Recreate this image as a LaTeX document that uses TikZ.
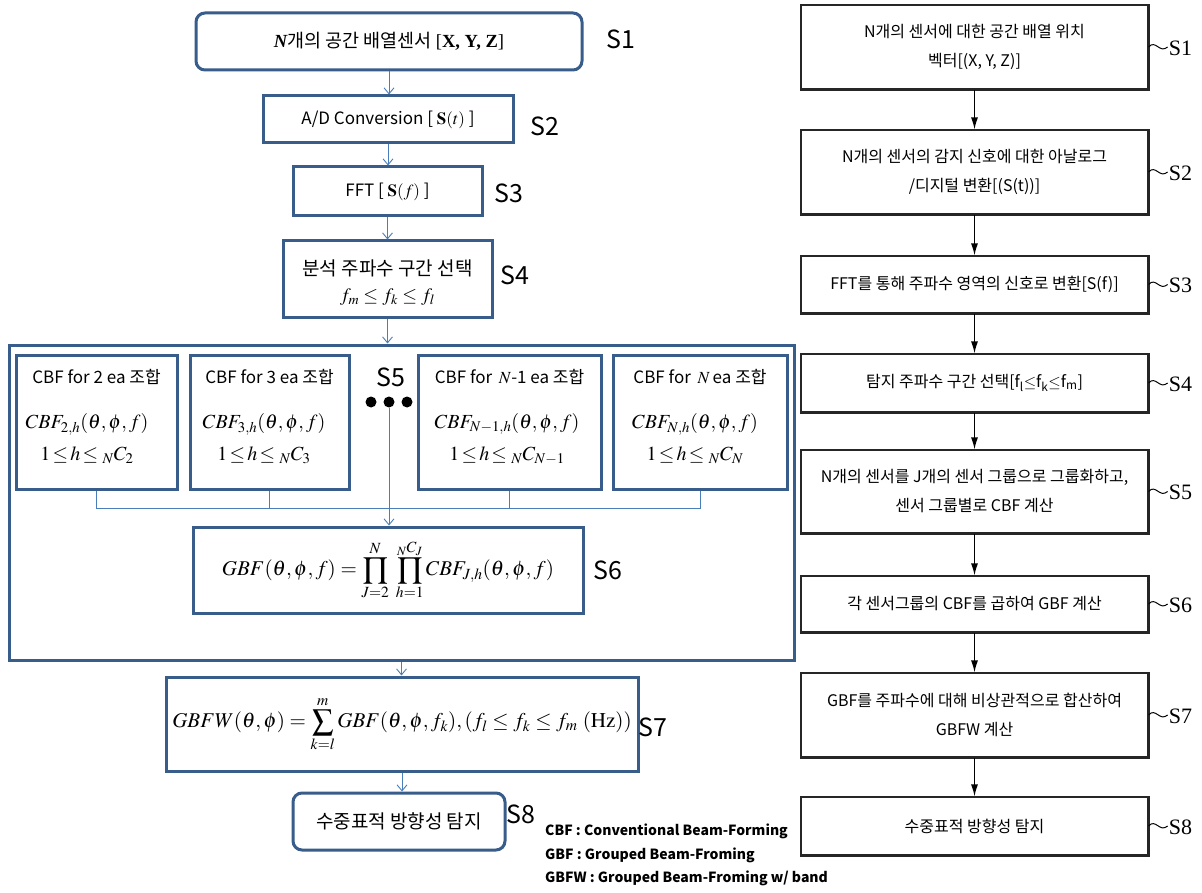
\documentclass[tikz,border=0pt]{standalone}
\usepackage{mathptmx}
\usepackage[no-math]{fontspec}
\setmainfont{Liberation Serif}
\newfontfamily\kr{Noto Sans CJK KR}
\usetikzlibrary{arrows.meta,calc}
\definecolor{bdr}{HTML}{385D8A}
\definecolor{arr}{HTML}{4A7EBB}
\begin{document}
\begin{tikzpicture}[x=1pt,y=-1pt,
  lbox/.style={draw=bdr, line width=3pt, inner sep=0pt, fill=white},
  rbox/.style={draw=black!85, line width=1.2pt, inner sep=0pt, minimum width=347pt, font=\kr\fontsize{16}{29}\selectfont, align=center},
  larrow/.style={draw=arr, line width=0.9pt, -{Straight Barb[length=6pt,width=10pt]}},
  conn/.style={draw=arr, line width=0.9pt},
  rarrow/.style={draw=black, line width=1.3pt, -{Latex[length=12pt,width=7pt]}},
  slab/.style={font=\kr\fontsize{25}{28}\selectfont},
  rlab/.style={font=\rmfamily\fontsize{22}{24}\selectfont, anchor=west, inner sep=0pt},
  ktxt/.style={font=\kr\fontsize{17}{20}\selectfont},
  kbig/.style={font=\kr\fontsize{19}{22}\selectfont},
  ftxt/.style={font=\fontsize{20}{32}\selectfont, align=center},
  dotc/.style={circle, fill=black, inner sep=0pt, minimum size=11pt},
  tl/.style={draw=black, line width=1pt}
]
\useasboundingbox (0,0) rectangle (1202,893);
\fill[white] (0,0) rectangle (1202,893);

% ---------------- left flow ----------------
\node[lbox, rounded corners=9pt, minimum width=386pt, minimum height=57pt, font=\kr\fontsize{18.5}{22}\selectfont] (s1) at (389,41.5)
  {{\rmfamily\bfseries\itshape N}개의 공간 배열센서 {\rmfamily[\textbf{X, Y, Z}]}};
\node[lbox, minimum width=250pt, minimum height=47pt, ktxt] (s2) at (388,119.5)
  {A/D Conversion [ $\mathbf{S}(t)$ ]};
\node[lbox, minimum width=189pt, minimum height=49pt, ktxt] (s3) at (387.5,191.5)
  {FFT [ $\mathbf{S}(f)$ ]};
\node[lbox, minimum width=209pt, minimum height=77pt] (s4) at (387.5,279.5) {};
\node[kbig] (s4a) at (387.5,268) {분석 주파수 구간 선택};
\node[font=\fontsize{19}{22}\selectfont] (s4b) at (387.5,297) {$f_m\le f_k\le f_l$};

\node[lbox, minimum width=785pt, minimum height=315pt] (outer) at (401.5,502.5) {};

\node[lbox, minimum width=161pt, minimum height=134pt] (b1) at (96.5,422) {};
\node[lbox, minimum width=159pt, minimum height=134pt] (b2) at (269.5,422) {};
\node[lbox, minimum width=183pt, minimum height=134pt] (b3) at (509.5,422) {};
\node[lbox, minimum width=174pt, minimum height=134pt] (b4) at (700,422) {};

\node[ktxt] (t1) at (96.5,377) {CBF for 2 ea 조합};
\node[ktxt] (t2) at (269.5,377) {CBF for 3 ea 조합};
\node[ktxt] (t3) at (509.5,377) {CBF for \,$N$-1 ea 조합};
\node[ktxt] (t4) at (700,377) {CBF for \,$N$\,ea 조합};
\node[ftxt] (f1) at (87,439) {$CBF_{2,h}(\theta,\phi,f)$\\$1\!\le\! h\!\le {}_{N}C_{2}$};
\node[ftxt] (f2) at (264,439) {$CBF_{3,h}(\theta,\phi,f)$\\$1\!\le\! h\!\le {}_{N}C_{3}$};
\node[ftxt] (f3) at (507,439) {$CBF_{N-1,h}(\theta,\phi,f)$\\$1\!\le\! h\!\le {}_{N}C_{N-1}$};
\node[ftxt] (f4) at (695,439) {$CBF_{N,h}(\theta,\phi,f)$\\$1\!\le\! h\!\le {}_{N}C_{N}$};

\node[slab] (s5l) at (391,377) {S5};
\node[dotc] (d1) at (371,402) {};
\node[dotc] (d2) at (389,402) {};
\node[dotc] (d3) at (407,402) {};

\node[lbox, minimum width=390pt, minimum height=86pt, font=\fontsize{21}{24}\selectfont] (s6) at (388,570)
  {$\displaystyle GBF(\theta,\phi,f)=\prod_{J=2}^{N}\;\prod_{h=1}^{{}_{N}C_{J}}CBF_{J,h}(\theta,\phi,f)$};
\node[lbox, minimum width=472pt, minimum height=94pt, font=\fontsize{21}{24}\selectfont] (s7) at (402,724)
  {$\displaystyle GBFW(\theta,\phi)=\sum_{k=l}^{m}GBF(\theta,\phi,f_k),(f_l\le f_k\le f_m\ (\mathrm{Hz}))$};
\node[lbox, rounded corners=9pt, minimum width=212pt, minimum height=57pt, kbig] (s8) at (399,821.5)
  {수중표적 방향성 탐지};

\node[slab] (l1) at (621,39) {S1};
\node[slab] (l2) at (545,126) {S2};
\node[slab] (l3) at (509,193) {S3};
\node[slab] (l4) at (515,275) {S4};
\node[slab] (l6) at (608,570) {S6};
\node[slab] (l7) at (653,727) {S7};
\node[slab] (l8) at (521,814) {S8};

\node[anchor=west, align=left, inner sep=0pt, font=\kr\bfseries\fontsize{14}{23.5}\selectfont] (leg) at (545,855)
  {CBF : Conventional Beam-Forming\\GBF : Grouped Beam-Froming\\GBFW : Grouped Beam-Froming w/ band};

% left connectors
\draw[larrow] (s1.south) -- (s1.south |- s2.north);
\draw[larrow] (s2.south) -- (s2.south |- s3.north);
\draw[larrow] (s3.south) -- (s3.south |- s4.north);
\draw[larrow] (s4.south) -- (s4.south |- outer.north);
\coordinate (jy) at (0,508);
\draw[conn] (b1.south) -- (b1.south |- jy) -- (b4.south |- jy) -- (b4.south);
\draw[conn] (b2.south) -- (b2.south |- jy);
\draw[conn] (b3.south) -- (b3.south |- jy);
\draw[larrow] (d2) -- (d2 |- s6.north);
\draw[larrow] (outer.south) -- (outer.south |- s7.north);
\draw[larrow] (s7.south) -- (s7.south |- s8.north);

% ---------------- right flow ----------------
\node[rbox, minimum height=84pt] (r1) at (974.5,47) {N개의 센서에 대한 공간 배열 위치\\벡터[(X, Y, Z)]};
\node[rbox, minimum height=84pt] (r2) at (974.5,172) {N개의 센서의 감지 신호에 대한 아날로그\\/디지털 변환[(S(t))]};
\node[rbox, minimum height=57pt] (r3) at (974.5,284.5) {FFT를 통해 주파수 영역의 신호로 변환[S(f)]};
\node[rbox, minimum height=58pt] (r4) at (974.5,383) {탐지 주파수 구간 선택[f\textsubscript{l}$\le$f\textsubscript{k}$\le$f\textsubscript{m}]};
\node[rbox, minimum height=83pt] (r5) at (974.5,491.5) {N개의 센서를 J개의 센서 그룹으로 그룹화하고,\\센서 그룹별로 CBF 계산};
\node[rbox, minimum height=56pt] (r6) at (974.5,604) {각 센서그룹의 CBF를 곱하여 GBF 계산};
\node[rbox, minimum height=84pt] (r7) at (974.5,715) {GBF를 주파수에 대해 비상관적으로 합산하여\\GBFW 계산};
\node[rbox, minimum height=58pt] (r8) at (974.5,826) {수중표적 방향성 탐지};

\foreach \i in {1,...,8}{
  \draw[line width=2.4pt, draw=black!85] (r\i.south west) -- (r\i.south east) -- (r\i.north east);
  \coordinate (te\i) at ($(r\i.east)+(19,0)$);
  \draw[tl] (r\i.east) .. controls ($(r\i.east)+(7,-8)$) and ($(te\i)+(-8,7)$) .. (te\i);
  \node[rlab] (rl\i) at ($(te\i)+(1,1)$) {S\i};
}
\foreach \a/\b in {1/2,2/3,3/4,4/5,5/6,6/7,7/8}{
  \draw[rarrow] (r\a.south) -- (r\b.north);
}
\end{tikzpicture}
\end{document}
